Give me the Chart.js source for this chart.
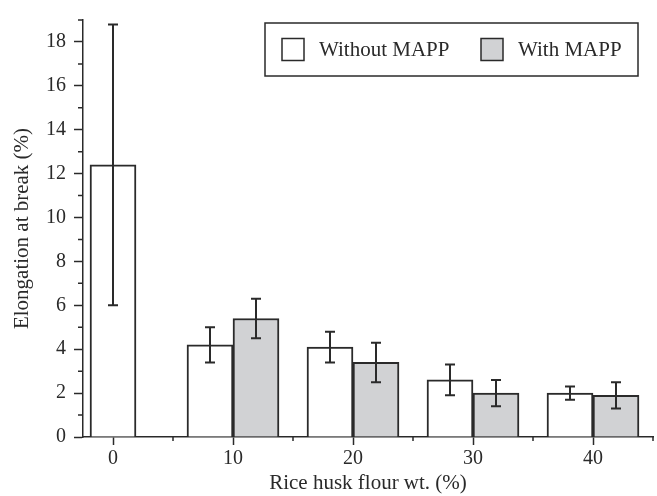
<!DOCTYPE html>
<html>
<head>
<meta charset="utf-8">
<script src="https://cdn.jsdelivr.net/npm/chart.js@4/dist/chart.umd.min.js"></script>
<style>
  html, body { margin: 0; padding: 0; background: #fff; }
</style>
</head>
<body>
<canvas id="chart" width="657" height="496"></canvas>
<script>
// Data
const fiberLoad = [0, 10, 20, 30, 40];
const withoutMapp = [12.4, 4.2, 4.1, 2.6, 2.0];
const withoutMappErr = [6.4, 0.8, 0.7, 0.7, 0.3];
const withMapp = [null, 5.4, 3.4, 2.0, 1.9];
const withMappErr = [null, 0.9, 0.9, 0.6, 0.6];

const xTicks = [0, 10, 20, 30, 40];
const xMinorTicks = [5, 15, 25, 35, 45];
const yTicks = [0, 2, 4, 6, 8, 10, 12, 14, 16, 18];
const yMinorTicks = [1, 3, 5, 7, 9, 11, 13, 15, 17, 19];

const ink = "#2a2a2a";
const font = "'Liberation Serif', 'Times New Roman', serif";

const toPoints = (vals) => fiberLoad.map((x, i) => ({ x: x, y: vals[i] }));

// error bars drawn on top of the bars
const errorBars = {
  id: "errorBars",
  afterDatasetsDraw(chart) {
    const ctx = chart.ctx;
    const yScale = chart.scales.y;
    chart.data.datasets.forEach((ds, i) => {
      const meta = chart.getDatasetMeta(i);
      meta.data.forEach((bar, j) => {
        const v = ds.data[j].y;
        const e = ds.errors[j];
        if (v == null || e == null) return;
        const top = yScale.getPixelForValue(v + e);
        const bot = yScale.getPixelForValue(v - e);
        ctx.save();
        ctx.strokeStyle = ink;
        ctx.lineWidth = 2;
        ctx.beginPath();
        ctx.moveTo(bar.x, top);
        ctx.lineTo(bar.x, bot);
        ctx.moveTo(bar.x - 5, top);
        ctx.lineTo(bar.x + 5, top);
        ctx.moveTo(bar.x - 5, bot);
        ctx.lineTo(bar.x + 5, bot);
        ctx.stroke();
        ctx.restore();
      });
    });
  }
};

// short minor ticks on both axes
const minorTicks = {
  id: "minorTicks",
  afterDraw(chart) {
    const ctx = chart.ctx;
    const { x, y } = chart.scales;
    const area = chart.chartArea;
    ctx.save();
    ctx.strokeStyle = ink;
    ctx.lineWidth = 1.5;
    ctx.beginPath();
    yMinorTicks.forEach((v) => {
      const py = y.getPixelForValue(v);
      ctx.moveTo(area.left - 5, py);
      ctx.lineTo(area.left, py);
    });
    xMinorTicks.forEach((v) => {
      const px = x.getPixelForValue(v);
      ctx.moveTo(px, area.bottom);
      ctx.lineTo(px, area.bottom + 4);
    });
    ctx.stroke();
    ctx.restore();
  }
};

// boxed legend in the upper right
const boxLegend = {
  id: "boxLegend",
  afterDraw(chart) {
    const ctx = chart.ctx;
    ctx.save();
    ctx.strokeStyle = ink;
    ctx.lineWidth = 1.5;
    ctx.strokeRect(265, 23, 373, 53);
    const slots = [282, 481];
    ctx.font = "21px " + font;
    ctx.textBaseline = "middle";
    ctx.fillStyle = ink;
    chart.data.datasets.forEach((ds, i) => {
      ctx.fillStyle = ds.backgroundColor;
      ctx.fillRect(slots[i], 38.5, 22, 22);
      ctx.strokeRect(slots[i], 38.5, 22, 22);
      ctx.fillStyle = ink;
      ctx.fillText(ds.label, slots[i] + 37, 50);
    });
    ctx.restore();
  }
};

new Chart(document.getElementById("chart"), {
  type: "bar",
  data: {
    datasets: [
      {
        label: "Without MAPP",
        data: toPoints(withoutMapp),
        errors: withoutMappErr,
        backgroundColor: "#ffffff",
        borderColor: ink,
        borderWidth: 2,
        barThickness: 46,
        skipNull: true
      },
      {
        label: "With MAPP",
        data: toPoints(withMapp),
        errors: withMappErr,
        backgroundColor: "#d1d2d4",
        borderColor: ink,
        borderWidth: 2,
        barThickness: 46,
        skipNull: true
      }
    ]
  },
  options: {
    responsive: false,
    animation: false,
    layout: { padding: { top: 7, right: 4, left: 0, bottom: 0 } },
    plugins: {
      legend: { display: false },
      tooltip: { enabled: false }
    },
    scales: {
      x: {
        type: "linear",
        min: -2.5,
        max: 45,
        offset: false,
        afterBuildTicks: (axis) => { axis.ticks = xTicks.map((v) => ({ value: v })); },
        afterFit: (axis) => { axis.height = 59; },
        grid: { offset: false, drawOnChartArea: false, tickLength: 8, tickColor: ink, tickWidth: 1.5 },
        border: { color: ink, width: 1.5 },
        ticks: { color: ink, font: { family: font, size: 20 }, padding: 2, maxRotation: 0 },
        title: {
          display: true,
          text: "Rice husk flour wt. (%)",
          color: ink,
          font: { family: font, size: 21, lineHeight: 1.2 },
          padding: { top: 0, bottom: 0 }
        }
      },
      y: {
        min: 0,
        max: 19,
        afterBuildTicks: (axis) => { axis.ticks = yTicks.map((v) => ({ value: v })); },
        afterFit: (axis) => { axis.width = 83; },
        grid: { drawOnChartArea: false, tickLength: 9, tickColor: ink, tickWidth: 1.5 },
        border: { color: ink, width: 1.5 },
        ticks: { color: ink, font: { family: font, size: 20 }, padding: 8 },
        title: {
          display: true,
          text: "Elongation at break (%)",
          color: ink,
          font: { family: font, size: 21, lineHeight: 1.2 },
          padding: { top: 10, bottom: 0 }
        }
      }
    }
  },
  plugins: [errorBars, minorTicks, boxLegend]
});
</script>
</body>
</html>
